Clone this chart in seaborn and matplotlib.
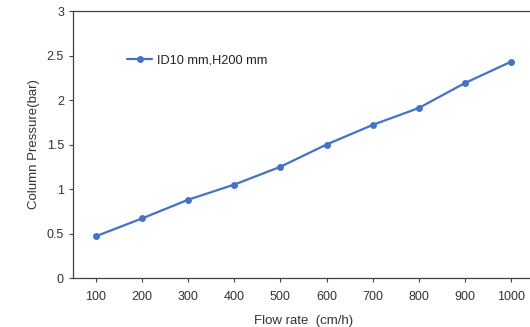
import matplotlib
matplotlib.use("Agg")
import matplotlib.pyplot as plt
import seaborn as sns
import pandas as pd

# debit (cm/h) et pression de colonne (bar)
debit = [100, 200, 300, 400, 500, 600, 700, 800, 900, 1000]
pression = [0.47, 0.67, 0.88, 1.05, 1.25, 1.50, 1.72, 1.91, 2.19, 2.43]
serie = "ID10 mm,H200 mm"
yticks = [0, 0.5, 1, 1.5, 2, 2.5, 3]
ytick_labels = ["0", "0.5", "1", "1.5", "2", "2.5", "3"]

df = pd.DataFrame({"debit": debit, "pression": pression, "serie": serie})

sns.set_style("ticks")
plt.rcParams["font.family"] = ["Liberation Sans", "DejaVu Sans"]

gris = "#404040"
bleu = "#4472C4"

fig = plt.figure(figsize=(5.3, 3.27), dpi=100)
ax = fig.add_axes([0.1377, 0.1498, 0.8698, 0.8165])

sns.lineplot(data=df, x="debit", y="pression", hue="serie", palette=[bleu],
             marker="o", markersize=5, markeredgewidth=0, linewidth=1.6, ax=ax)

ax.set_xlim(50, 1050)
ax.set_ylim(0, 3)
ax.set_xticks(debit)
ax.set_xticklabels([str(d) for d in debit])
ax.set_yticks(yticks)
ax.set_yticklabels(ytick_labels)

ax.tick_params(axis="both", colors=gris, labelsize=9, length=3, width=0.8,
               labelcolor="#333333")
ax.tick_params(axis="x", pad=6)
for s in ["left", "bottom", "top"]:
    ax.spines[s].set_color(gris)
    ax.spines[s].set_linewidth(0.9)
ax.spines["right"].set_visible(False)

ax.set_xlabel("Flow rate  (cm/h)", fontsize=9.5, color="#333333", labelpad=9)
ax.set_ylabel("Column Pressure(bar)", fontsize=9.5, color="#333333", labelpad=5)

ax.legend(loc="center left", bbox_to_anchor=(0.118, 0.813), frameon=False,
          fontsize=9.2, handlelength=1.9, handletextpad=0.45, borderpad=0,
          borderaxespad=0, labelcolor="#222222")

fig.savefig("out.png", dpi=100)
